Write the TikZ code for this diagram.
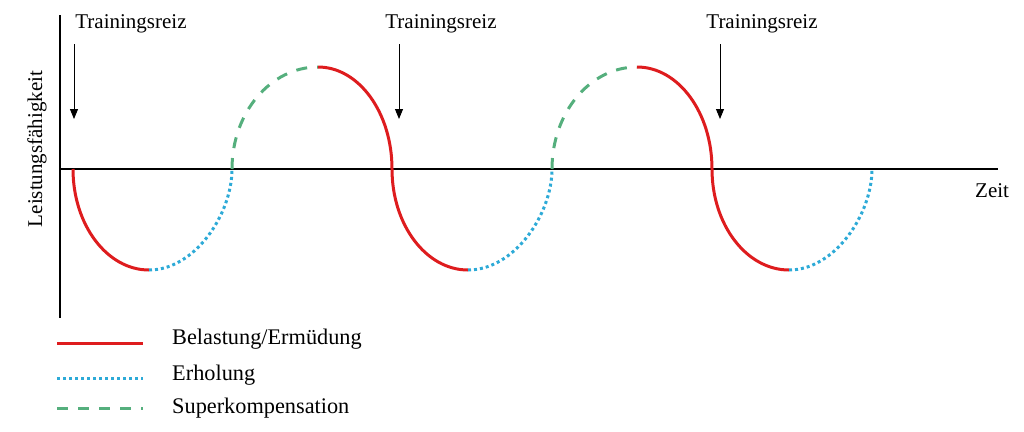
\documentclass[tikz,border=0pt]{standalone}
\usepackage{fontspec}
\setmainfont{Liberation Serif}
\usetikzlibrary{arrows.meta}
\definecolor{lred}{RGB}{222,28,30}
\definecolor{lblue}{RGB}{45,170,215}
\definecolor{lgreen}{RGB}{85,175,125}
\begin{document}
\begin{tikzpicture}[x=1pt,y=-1pt,
 belast/.style={lred,line width=3pt},
 erhol/.style={lblue,line width=3pt,dash pattern=on 3pt off 3pt},
 superk/.style={lgreen,line width=3pt,dash pattern=on 11pt off 10pt},
 axisline/.style={line width=1.3pt},
 lbl/.style={font=\fontsize{21}{24}\selectfont, inner sep=0pt},
 leglbl/.style={font=\fontsize{22.3}{25}\selectfont, inner sep=0pt},
 reiz/.style={-{Triangle[length=10pt,width=8pt]}, line width=0.9pt}]
\useasboundingbox (0,0) rectangle (1024,431);
% axes
\coordinate (ytop) at (60,15);
\coordinate (ybot) at (60,318);
\coordinate (xl) at (60,169);
\coordinate (xr) at (998,169);
\draw[axisline] (ytop) -- (ybot);
\draw[axisline] (xl) -- (xr);
\node[lbl, anchor=base west] (zeit) at (975,197) {Zeit};
\node[lbl, rotate=90, anchor=base] (ylab) at (42,149) {Leistungsfähigkeit};
% stimuli
\foreach \i/\tx/\ax in {1/131/74, 2/441/399, 3/762/720}{
  \node[lbl, anchor=base] (reiz\i) at (\tx,28) {Trainingsreiz};
  \coordinate (as\i) at (\ax,44);
  \coordinate (ae\i) at (\ax,119);
  \draw[reiz] (as\i) -- (ae\i);
}
% curve points
\coordinate (p0) at (73,169);
\coordinate (b1) at (149,270);
\coordinate (z1) at (232,169);
\coordinate (t1) at (318,67);
\coordinate (z2) at (392,169);
\coordinate (b2) at (468,270);
\coordinate (z3) at (552,169);
\coordinate (t2) at (637,67);
\coordinate (z4) at (712,169);
\coordinate (b3) at (789,270);
\coordinate (z5) at (872,169);
% segments
\draw[belast] (p0) .. controls (73,224.8) and (107,270) .. (b1);
\draw[erhol] (b1) .. controls (194.8,270) and (232,214.2) .. (z1);
\draw[superk] (z1) .. controls (232,112.7) and (270.5,67) .. (t1);
\draw[belast] (t1) .. controls (358.8,67) and (392,112.7) .. (z2)
   .. controls (392,224.8) and (426,270) .. (b2);
\draw[erhol] (b2) .. controls (514.4,270) and (552,214.2) .. (z3);
\draw[superk] (z3) .. controls (552,112.7) and (590,67) .. (t2);
\draw[belast] (t2) .. controls (678.4,67) and (712,112.7) .. (z4)
   .. controls (712,224.8) and (746.5,270) .. (b3);
\draw[erhol] (b3) .. controls (834.8,270) and (872,214.2) .. (z5);
% legend
\coordinate (l1a) at (57,343); \coordinate (l1b) at (143,343);
\coordinate (l2a) at (57,378); \coordinate (l2b) at (143,378);
\coordinate (l3a) at (57,408); \coordinate (l3b) at (143,408);
\draw[belast] (l1a) -- (l1b);
\draw[erhol] (l2a) -- (l2b);
\draw[superk] (l3a) -- (l3b);
\node[leglbl, anchor=base west] (leg1) at (172,344) {Belastung/Ermüdung};
\node[leglbl, anchor=base west] (leg2) at (172,380) {Erholung};
\node[leglbl, anchor=base west] (leg3) at (172,413) {Superkompensation};
\end{tikzpicture}
\end{document}
